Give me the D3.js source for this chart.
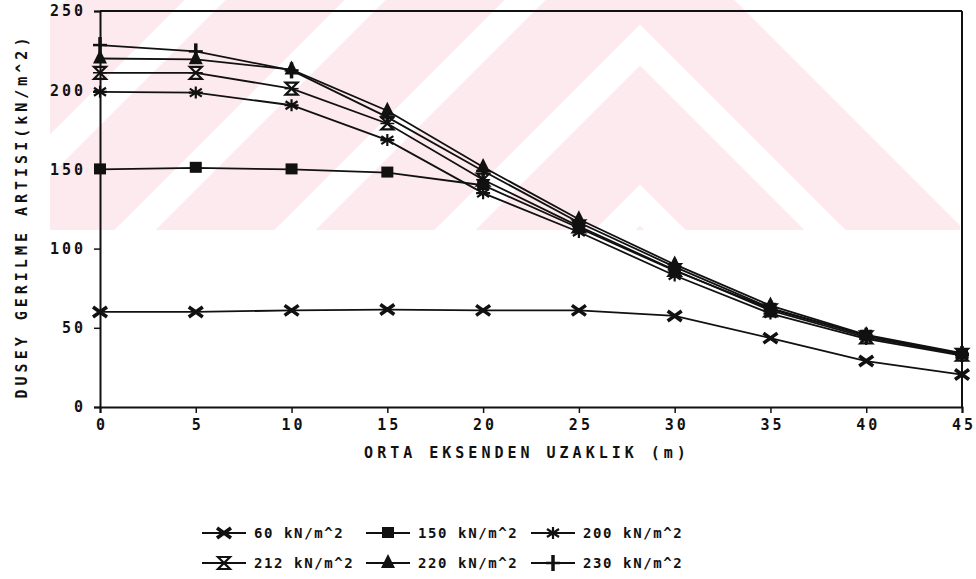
<!DOCTYPE html>
<html lang="tr">
<head>
<meta charset="UTF-8">
<title>Dusey gerilme artisi</title>
<script src="https://d3js.org/d3.v7.min.js"></script>
<style>
  body { margin: 0; background: #fff; }
  text { font-family: "DejaVu Sans Mono", "Liberation Mono", monospace; font-weight: bold; fill: #111; }
</style>
</head>
<body>
<svg id="chart" width="976" height="579"></svg>
<script>
// distance from centre axis (m)
const distances = [0, 5, 10, 15, 20, 25, 30, 35, 40, 45];

const s60  = [60, 60, 61, 61.5, 61, 61, 57.5, 43.5, 29, 20.5];
const s150 = [150, 151, 150, 148, 140, 113, 86, 62, 45, 33];
const s200 = [199, 198.5, 190.5, 168.5, 135, 110.5, 83, 59, 43, 32.5];
const s212 = [211, 211, 201, 179, 143.5, 114, 86.5, 61, 44, 33];
const s220 = [220, 219.5, 213, 187, 151.5, 118.5, 90, 64, 45.5, 34];
const s230 = [228.5, 224.5, 212.5, 183, 149, 116.5, 88.5, 62.5, 45, 33.5];

const seriesNames = ["60 kN/m^2", "150 kN/m^2", "200 kN/m^2", "212 kN/m^2", "220 kN/m^2", "230 kN/m^2"];
const seriesValues = [s60, s150, s200, s212, s220, s230];
const markerTypes = ["bowx", "square", "star", "hourglass", "triangle", "plus"];

const xTicks = [0, 5, 10, 15, 20, 25, 30, 35, 40, 45];
const yTicks = [0, 50, 100, 150, 200, 250];

const svg = d3.select("#chart");
const pLeft = 100, pRight = 962, pTop = 11, pBottom = 407;

// faint watermark in the background
const wm = svg.append("g");
wm.append("clipPath").attr("id", "wmclip")
  .append("path").attr("d", "M50,0 L745,0 L960,215 L960,230 L50,230 Z");
const wmg = wm.append("g").attr("clip-path", "url(#wmclip)");
[285, 125, -35, -195, -355, -515, -675].forEach(py => {
  wmg.append("path")
    .attr("d", `M${640 - 1000},${py + 1000} L640,${py} L${640 + 1000},${py + 1000}`)
    .attr("fill", "none").attr("stroke", "#fdeaee").attr("stroke-width", 84);
});

const x = d3.scaleLinear().domain([0, 45]).range([pLeft, pRight]);
const y = d3.scaleLinear().domain([0, 250]).range([pBottom, pTop]);

// frame
svg.append("line").attr("x1", pLeft).attr("x2", pRight).attr("y1", pTop).attr("y2", pTop)
  .attr("stroke", "#111").attr("stroke-width", 2);
svg.append("line").attr("x1", pRight).attr("x2", pRight).attr("y1", pTop).attr("y2", pBottom)
  .attr("stroke", "#111").attr("stroke-width", 2);

const xAxis = d3.axisBottom(x).tickValues(xTicks).tickSize(6).tickPadding(6);
const yAxis = d3.axisLeft(y).tickValues(yTicks).tickSize(6).tickPadding(8);

const gx = svg.append("g").attr("transform", `translate(0,${pBottom})`).call(xAxis);
const gy = svg.append("g").attr("transform", `translate(${pLeft},0)`).call(yAxis);
[gx, gy].forEach(g => {
  g.select(".domain").attr("stroke", "#111").attr("stroke-width", 2);
  g.selectAll(".tick line").attr("stroke", "#111").attr("stroke-width", 1.5);
  g.selectAll(".tick text").style("font-family", "DejaVu Sans Mono, monospace")
    .style("font-weight", "bold").style("font-size", "15px").style("letter-spacing", "3px")
    .attr("fill", "#111");
});
gx.selectAll(".tick text").attr("dx", "1.5px");

svg.append("text")
  .attr("x", 527).attr("y", 458).attr("text-anchor", "middle")
  .style("font-size", "15px").style("letter-spacing", "4px")
  .text("ORTA EKSENDEN UZAKLIK (m)");

svg.append("text")
  .attr("transform", "translate(27,216) rotate(-90)").attr("text-anchor", "middle")
  .style("font-size", "15px").style("letter-spacing", "4px")
  .text("DUSEY GERILME ARTISI(kN/m^2)");

function drawMarker(g, type) {
  if (type === "bowx") {
    g.append("path").attr("d", "M-7,-5 L7,5 M7,-5 L-7,5").attr("stroke", "#111").attr("stroke-width", 3.6);
    g.append("path").attr("d", "M-3,-2 L3,-2 L3,2 L-3,2 Z").attr("fill", "#111");
  } else if (type === "square") {
    g.append("rect").attr("x", -6).attr("y", -6).attr("width", 12).attr("height", 11).attr("fill", "#111");
  } else if (type === "star") {
    g.append("path").attr("d", "M0,-6 L0,6 M-6,-4 L6,4 M6,-4 L-6,4 M-7,0 L7,0")
      .attr("stroke", "#111").attr("stroke-width", 2.2);
  } else if (type === "hourglass") {
    g.append("path").attr("d", "M-6,-6 L6,-6 L-6,6 L6,6 Z").attr("fill", "none")
      .attr("stroke", "#111").attr("stroke-width", 2.2);
    g.append("path").attr("d", "M-7,0 L7,0").attr("stroke", "#111").attr("stroke-width", 1.5);
  } else if (type === "triangle") {
    g.append("path").attr("d", "M0,-9 L7,5 L-7,5 Z").attr("fill", "#111");
  } else if (type === "plus") {
    g.append("path").attr("d", "M0,-8 L0,8").attr("stroke", "#111").attr("stroke-width", 3.5);
    g.append("path").attr("d", "M-7,0 L7,0").attr("stroke", "#111").attr("stroke-width", 2.5);
  }
}

const line = d3.line().x((d, i) => x(distances[i])).y(d => y(d));

seriesValues.forEach((vals, k) => {
  svg.append("path").datum(vals).attr("d", line)
    .attr("fill", "none").attr("stroke", "#111").attr("stroke-width", 1.8);
  vals.forEach((v, i) => {
    const g = svg.append("g").attr("transform", `translate(${x(distances[i])},${y(v)})`);
    drawMarker(g, markerTypes[k]);
  });
});

// legend
const legendX = [254, 418, 583];
const legendY = [533, 563];
seriesNames.forEach((name, k) => {
  const lx = legendX[k % 3], ly = legendY[Math.floor(k / 3)];
  svg.append("line").attr("x1", lx - 52).attr("x2", lx - 8).attr("y1", ly).attr("y2", ly)
    .attr("stroke", "#111").attr("stroke-width", 1.8);
  const g = svg.append("g").attr("transform", `translate(${lx - 30},${ly})`);
  drawMarker(g, markerTypes[k]);
  svg.append("text").attr("x", lx).attr("y", ly + 5)
    .style("font-size", "14px").style("letter-spacing", "1.6px")
    .text(name);
});
</script>
</body>
</html>
